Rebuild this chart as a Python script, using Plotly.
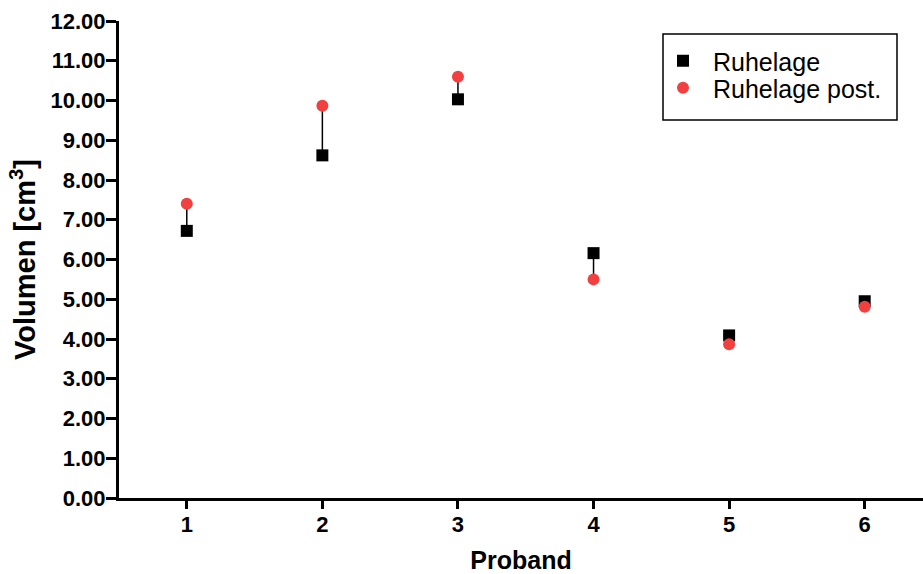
import plotly.graph_objects as go

# Volume per subject, resting position before and after
proband = [1, 2, 3, 4, 5, 6]
ruhelage = [6.72, 8.62, 10.03, 6.16, 4.09, 4.95]
ruhelage_post = [7.40, 9.87, 10.60, 5.50, 3.87, 4.81]
y_ticks = [0, 1, 2, 3, 4, 5, 6, 7, 8, 9, 10, 11, 12]
y_tick_labels = [f"{v:.2f}" for v in y_ticks]

FONT = "Liberation Sans, Arial, sans-serif"

# Vertical connectors between paired values
cx, cy = [], []
for p, a, b in zip(proband, ruhelage, ruhelage_post):
    cx += [p, p, None]
    cy += [a, b, None]

fig = go.Figure()
fig.add_trace(go.Scatter(
    x=cx, y=cy, mode="lines",
    line=dict(color="black", width=1.5),
    showlegend=False, hoverinfo="skip",
))
fig.add_trace(go.Scatter(
    x=proband, y=ruhelage, mode="markers", name="Ruhelage",
    marker=dict(symbol="square", size=12, color="black"),
    legend="legend",
))
fig.add_trace(go.Scatter(
    x=proband, y=ruhelage_post, mode="markers", name="Ruhelage post.",
    marker=dict(symbol="circle", size=12, color="#F24040"),
    legend="legend2",
))

legend_style = dict(
    xanchor="left", yanchor="middle",
    borderwidth=0, bgcolor="rgba(0,0,0,0)",
    font=dict(size=25, family=FONT, color="black"),
    itemwidth=50,
)

fig.update_layout(
    width=923, height=574,
    margin=dict(l=119, r=0, t=21, b=76),
    paper_bgcolor="white", plot_bgcolor="white",
    font=dict(family=FONT, color="black"),
    legend=dict(x=(653 - 119) / 804, y=(498 - 61) / 477, **legend_style),
    legend2=dict(x=(653 - 119) / 804, y=(498 - 88) / 477, **legend_style),
    shapes=[dict(
        type="rect", xref="paper", yref="paper",
        x0=(663 - 119) / 804, x1=(897 - 119) / 804,
        y0=(498 - 120) / 477, y1=(498 - 34) / 477,
        line=dict(color="black", width=1.5), layer="below",
    )],
    xaxis=dict(
        range=[0.5, 6.43], tickvals=proband,
        ticktext=[str(p) for p in proband],
        showgrid=False, zeroline=False,
        showline=True, linecolor="black", linewidth=3,
        ticks="outside", ticklen=8, tickwidth=3, tickcolor="black",
        tickfont=dict(size=22, family=FONT, color="black", weight="bold"),
        ticklabelstandoff=-3,
        title=dict(text="<b>Proband</b>", font=dict(size=25, family=FONT), standoff=18),
    ),
    yaxis=dict(
        range=[0, 12], tickvals=y_ticks, ticktext=y_tick_labels,
        showgrid=False, zeroline=False,
        showline=True, linecolor="black", linewidth=3,
        ticks="outside", ticklen=10, tickwidth=3, tickcolor="black",
        tickfont=dict(size=22, family=FONT, color="black", weight="bold"),
        ticklabelstandoff=-4,
        title=dict(text="<b>Volumen [cm<sup>3</sup>]</b>", font=dict(size=29, family=FONT), standoff=7),
    ),
)

fig.write_html("out.html")
